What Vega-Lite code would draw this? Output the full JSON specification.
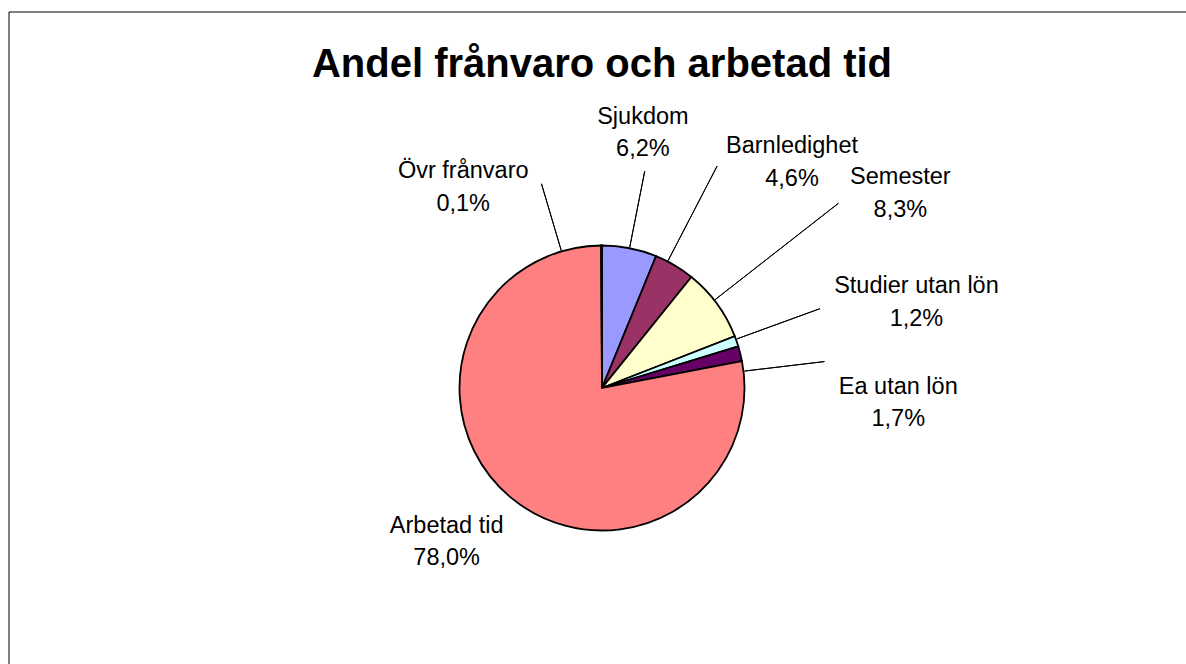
{
  "$schema": "https://vega.github.io/schema/vega-lite/v6.json",
  "width": 1187,
  "height": 753,
  "autosize": {"type": "none"},
  "padding": {"left": 8.5, "top": 11.5, "right": -9.5, "bottom": -100.5},
  "background": "#ffffff",
  "view": {"stroke": "#000000", "strokeWidth": 1, "fill": null},
  "title": {
    "text": "Andel frånvaro och arbetad tid",
    "font": "Liberation Sans",
    "fontSize": 40,
    "fontWeight": "bold",
    "color": "#000000",
    "anchor": "middle",
    "baseline": "alphabetic",
    "offset": -105
  },
  "config": {
    "view": {"stroke": "#000000", "strokeWidth": 1},
    "text": {"font": "Liberation Sans"}
  },
  "data": {
    "values": [
      {"kategori": "Sjukdom", "andel": 6.2},
      {"kategori": "Barnledighet", "andel": 4.6},
      {"kategori": "Semester", "andel": 8.3},
      {"kategori": "Studier utan lön", "andel": 1.2},
      {"kategori": "Ea utan lön", "andel": 1.7},
      {"kategori": "Arbetad tid", "andel": 78.0},
      {"kategori": "Övr frånvaro", "andel": 0.1}
    ]
  },
  "transform": [
    {"window": [{"op": "row_number", "as": "ordning"}]},
    {"calculate": "datum.kategori + '\\n' + replace(format(datum.andel, '.1f'), '.', ',') + '%'", "as": "etikett"}
  ],
  "encoding": {
    "theta": {"field": "andel", "type": "quantitative", "stack": true},
    "order": {"field": "ordning", "type": "quantitative"},
    "detail": {"field": "kategori", "type": "nominal"}
  },
  "layer": [
    {
      "mark": {"type": "arc", "radius": 142.5, "stroke": "#000000", "strokeWidth": 1.8},
      "encoding": {
        "color": {
          "field": "kategori",
          "type": "nominal",
          "scale": {
            "domain": ["Sjukdom", "Barnledighet", "Semester", "Studier utan lön", "Ea utan lön", "Arbetad tid", "Övr frånvaro"],
            "range": ["#9999FF", "#993366", "#FFFFCC", "#CCFFFF", "#660066", "#FF8080", "#0066CC"]
          },
          "legend": null
        }
      }
    },
    {
      "mark": {"type": "arc", "radius": 221, "radius2": 143.5, "padAngle": 3.1, "filled": false, "stroke": "#000000", "strokeWidth": 1},
      "encoding": {"strokeOpacity": {"condition": {"test": "datum.kategori === 'Sjukdom'", "value": 1}, "value": 0}}
    },
    {
      "mark": {"type": "arc", "radius": 250, "radius2": 143.5, "padAngle": 3.1, "filled": false, "stroke": "#000000", "strokeWidth": 1, "thetaOffset": -0.055, "theta2Offset": -0.055},
      "encoding": {"strokeOpacity": {"condition": {"test": "datum.kategori === 'Barnledighet'", "value": 1}, "value": 0}}
    },
    {
      "mark": {"type": "arc", "radius": 300, "radius2": 143.5, "padAngle": 3.1, "filled": false, "stroke": "#000000", "strokeWidth": 1, "thetaOffset": -0.0308, "theta2Offset": -0.0308},
      "encoding": {"strokeOpacity": {"condition": {"test": "datum.kategori === 'Semester'", "value": 1}, "value": 0}}
    },
    {
      "mark": {"type": "arc", "radius": 232, "radius2": 143.5, "padAngle": 3.1, "filled": false, "stroke": "#000000", "strokeWidth": 1, "thetaOffset": -0.0148, "theta2Offset": -0.0148},
      "encoding": {"strokeOpacity": {"condition": {"test": "datum.kategori === 'Studier utan lön'", "value": 1}, "value": 0}}
    },
    {
      "mark": {"type": "arc", "radius": 224, "radius2": 143.5, "padAngle": 3.1, "filled": false, "stroke": "#000000", "strokeWidth": 1, "thetaOffset": 0.125, "theta2Offset": 0.125},
      "encoding": {"strokeOpacity": {"condition": {"test": "datum.kategori === 'Ea utan lön'", "value": 1}, "value": 0}}
    },
    {
      "mark": {"type": "arc", "radius": 213, "radius2": 143.5, "padAngle": 3.1, "filled": false, "stroke": "#000000", "strokeWidth": 1, "thetaOffset": -0.285, "theta2Offset": -0.285},
      "encoding": {"strokeOpacity": {"condition": {"test": "datum.kategori === 'Övr frånvaro'", "value": 1}, "value": 0}}
    },
    {
      "mark": {"type": "text", "radius": 258, "dx": -9, "dy": -18, "fontSize": 23.5, "lineBreak": "\n", "lineHeight": 32.5, "align": "center", "baseline": "middle", "color": "#000000"},
      "encoding": {"text": {"condition": {"test": "datum.kategori === 'Sjukdom'", "field": "etikett", "type": "nominal"}, "value": ""}}
    },
    {
      "mark": {"type": "text", "radius": 295, "dx": 40, "dy": 12, "fontSize": 23.5, "lineBreak": "\n", "lineHeight": 32.5, "align": "center", "baseline": "middle", "color": "#000000"},
      "encoding": {"text": {"condition": {"test": "datum.kategori === 'Barnledighet'", "field": "etikett", "type": "nominal"}, "value": ""}}
    },
    {
      "mark": {"type": "text", "radius": 355, "dx": 12, "dy": -1, "fontSize": 23.5, "lineBreak": "\n", "lineHeight": 32.5, "align": "center", "baseline": "middle", "color": "#000000"},
      "encoding": {"text": {"condition": {"test": "datum.kategori === 'Semester'", "field": "etikett", "type": "nominal"}, "value": ""}}
    },
    {
      "mark": {"type": "text", "radius": 326, "dx": 6.5, "dy": 5, "fontSize": 23.5, "lineBreak": "\n", "lineHeight": 32.5, "align": "center", "baseline": "middle", "color": "#000000"},
      "encoding": {"text": {"condition": {"test": "datum.kategori === 'Studier utan lön'", "field": "etikett", "type": "nominal"}, "value": ""}}
    },
    {
      "mark": {"type": "text", "radius": 296, "dx": 9, "dy": 70, "fontSize": 23.5, "lineBreak": "\n", "lineHeight": 32.5, "align": "center", "baseline": "middle", "color": "#000000"},
      "encoding": {"text": {"condition": {"test": "datum.kategori === 'Ea utan lön'", "field": "etikett", "type": "nominal"}, "value": ""}}
    },
    {
      "mark": {"type": "text", "radius": 218, "dx": -17, "dy": -31, "fontSize": 23.5, "lineBreak": "\n", "lineHeight": 32.5, "align": "center", "baseline": "middle", "color": "#000000"},
      "encoding": {"text": {"condition": {"test": "datum.kategori === 'Arbetad tid'", "field": "etikett", "type": "nominal"}, "value": ""}}
    },
    {
      "mark": {"type": "text", "radius": 244, "dx": -138, "dy": 27, "fontSize": 23.5, "lineBreak": "\n", "lineHeight": 32.5, "align": "center", "baseline": "middle", "color": "#000000"},
      "encoding": {"text": {"condition": {"test": "datum.kategori === 'Övr frånvaro'", "field": "etikett", "type": "nominal"}, "value": ""}}
    }
  ]
}
